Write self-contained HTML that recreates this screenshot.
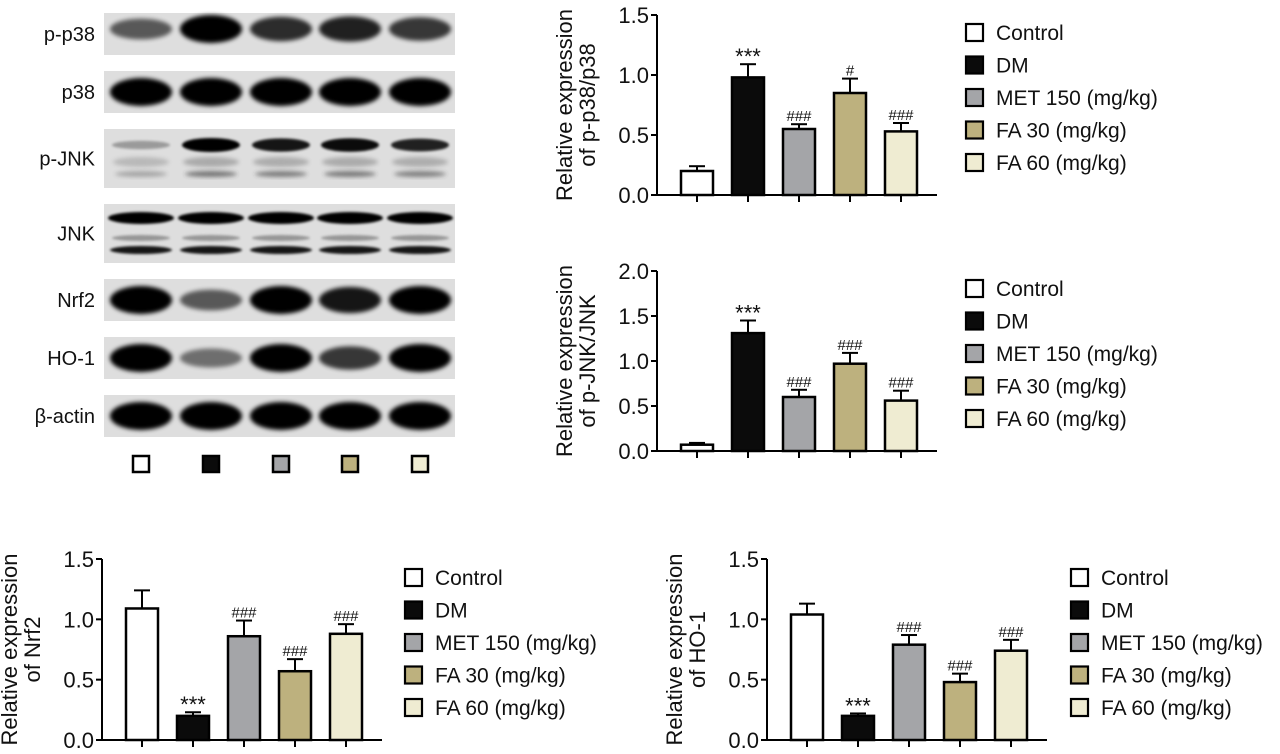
<!DOCTYPE html>
<html><head><meta charset="utf-8">
<style>
html,body{margin:0;padding:0;background:#fff;}
svg{display:block;font-family:"Liberation Sans",Arial,sans-serif;}
</style></head>
<body>
<svg id="fig" width="1280" height="754" viewBox="0 0 1280 754" xmlns="http://www.w3.org/2000/svg">
<defs>
<filter id="blur" x="-20%" y="-50%" width="140%" height="200%"><feGaussianBlur stdDeviation="2"/></filter>
<filter id="blur2" x="-20%" y="-50%" width="140%" height="200%"><feGaussianBlur stdDeviation="1.3"/></filter>
</defs>
</svg>
<script>
// ---------- data ----------
const groups = ["Control","DM","MET 150 (mg/kg)","FA 30 (mg/kg)","FA 60 (mg/kg)"];
const colors = ["#ffffff","#0b0b0b","#a4a5a8","#bdb17e","#efecd2"];
const pp38Vals = [0.20,0.98,0.55,0.85,0.53];
const pp38Err  = [0.04,0.11,0.04,0.12,0.07];
const pp38Sig  = ["","***","###","#","###"];
const pjnkVals = [0.07,1.31,0.60,0.97,0.56];
const pjnkErr  = [0.02,0.14,0.08,0.12,0.11];
const pjnkSig  = ["","***","###","###","###"];
const nrf2Vals = [1.09,0.20,0.86,0.57,0.88];
const nrf2Err  = [0.15,0.03,0.13,0.10,0.08];
const nrf2Sig  = ["","***","###","###","###"];
const ho1Vals  = [1.04,0.20,0.79,0.48,0.74];
const ho1Err   = [0.09,0.02,0.08,0.07,0.09];
const ho1Sig   = ["","***","###","###","###"];
const ticks15 = ["0.0","0.5","1.0","1.5"];
const ticks20 = ["0.0","0.5","1.0","1.5","2.0"];
// blot band intensities (0-1) per lane
const blotRows = [
 {name:"p-p38", i:[0.6,1,0.8,0.85,0.75]},
 {name:"p38", i:[1,1,1,1,1]},
 {name:"p-JNK", i:[0.3,1,0.9,0.95,0.85]},
 {name:"JNK", i:[1,1,1,1,1]},
 {name:"Nrf2", i:[1,0.6,1,0.9,1]},
 {name:"HO-1", i:[1,0.5,1,0.75,1]},
 {name:"β-actin", i:[1,1,1,1,1]}
];

const NS="http://www.w3.org/2000/svg";
const svg=document.getElementById('fig');
function mk(tag,attrs,parent){const e=document.createElementNS(NS,tag);for(const k in attrs)e.setAttribute(k,attrs[k]);(parent||svg).appendChild(e);return e;}

// ---------- blot ----------
const blot=mk('g',{});


const rowY=[[13,55],[71,113],[129,188],[204,263],[279,321],[337,379],[395,437]];
const laneX=[141,211,281,350,420];
blotRows.forEach((r,ri)=>{
  const [y0,y1]=rowY[ri];
  const g=mk('g',{},blot);
  
  
  mk('rect',{x:104,y:y0,width:351,height:y1-y0,fill:'#dedede'},g);
  const t=mk('text',{x:95,y:(y0+y1)/2+7,'text-anchor':'end','font-size':20,fill:'#111'},g);
  t.textContent=r.name;
  
  
  const cy=(y0+y1)/2;
  r.i.forEach((v,li)=>{
    const op=Math.min(1,v);
    if(r.name==="p-JNK"){
      mk('ellipse',{cx:laneX[li],cy:y0+16,rx:29,ry:3+4*v,fill:'#000',opacity:op,filter:'url(#blur2)'},g);
      mk('ellipse',{cx:laneX[li],cy:y0+33,rx:28,ry:5,fill:'#777',opacity:0.3+0.2*v,filter:'url(#blur)'},g);
      mk('ellipse',{cx:laneX[li],cy:y0+45,rx:26,ry:3,fill:'#333',opacity:0.2+0.4*v,filter:'url(#blur)'},g);
    } else if(r.name==="JNK"){
      mk('ellipse',{cx:laneX[li],cy:y0+14,rx:33,ry:6,fill:'#000',opacity:op,filter:'url(#blur2)'},g);
      mk('ellipse',{cx:laneX[li],cy:y0+34,rx:29,ry:3,fill:'#666',opacity:0.6,filter:'url(#blur2)'},g);
      mk('ellipse',{cx:laneX[li],cy:y0+46,rx:31,ry:4,fill:'#000',opacity:0.9,filter:'url(#blur2)'},g);
    } else {
      mk('ellipse',{cx:laneX[li],cy:cy-(r.name==="p-p38"?5:0),rx:31,ry:5+9*v,fill:'#000',opacity:op,filter:'url(#blur)'},g);
    }
  });
});
colors.forEach((c,i)=>{
  const s=mk('rect',{x:laneX[i]-8,y:456,width:16,height:16,fill:c,stroke:'#000','stroke-width':2.5});
  
  
});

// ---------- bar charts ----------
function chart(o){
  const g=mk('g',{});
  
  
  const yS=v=>o.y0-(v/o.max)*(o.y0-o.yTop);
  const barCx=i=>o.x0+40+i*51;
  const ax=mk('line',{x1:o.x0,y1:o.y0,x2:o.x0,y2:o.yTop,stroke:'#000','stroke-width':2},g);
  
  
  o.ticks.forEach(tl=>{
    const v=parseFloat(tl),y=yS(v);
    mk('line',{x1:o.x0-6,y1:y,x2:o.x0,y2:y,stroke:'#000','stroke-width':2},g);
    const t=mk('text',{x:o.x0-8,y:y+8,'text-anchor':'end','font-size':22,fill:'#111'},g);
    t.textContent=tl;
    
    
  });
  const xa=mk('line',{x1:o.x0,y1:o.y0,x2:o.x0+280,y2:o.y0,stroke:'#000','stroke-width':2},g);
  
  
  const tt=mk('text',{transform:`translate(${o.x0-85},${(o.y0+o.yTop)/2}) rotate(-90)`,'text-anchor':'middle','font-size':22,fill:'#111'},g);
  
  
  const ts1=mk('tspan',{x:0,dy:0},tt);ts1.textContent="Relative expression";
  const ts2=mk('tspan',{x:0,dy:23},tt);ts2.textContent=o.title;
  o.vals.forEach((v,i)=>{
    const cx=barCx(i),yt=yS(v),ye=yS(v+o.err[i]);
    const e=mk('line',{x1:cx,y1:yt,x2:cx,y2:ye,stroke:'#000','stroke-width':2},g);
    
    
    mk('line',{x1:cx-8,y1:ye,x2:cx+8,y2:ye,stroke:'#000','stroke-width':2},g);
    const b=mk('rect',{x:cx-16,y:yt,width:32,height:o.y0-yt,fill:colors[i],stroke:'#000','stroke-width':2.5},g);
    
    
    mk('line',{x1:cx,y1:o.y0,x2:cx,y2:o.y0+7,stroke:'#000','stroke-width':2},g);
    if(o.sig[i]){
      const isStar=o.sig[i]==="***";
      const s=mk('text',{x:cx,y:ye-(isStar?0:3),'text-anchor':'middle','font-size':isStar?22:15,fill:'#111'},g);
      s.textContent=o.sig[i];
      
      
    }
  });
  const lg=mk('g',{},g);
  
  
  groups.forEach((n,i)=>{
    const y=o.ly+i*32.5;
    const en=mk('g',{},lg);
    
    
    mk('rect',{x:o.lx,y:y-8,width:17,height:17,fill:colors[i],stroke:'#000','stroke-width':2.2},en);
    const t=mk('text',{x:o.lx+30,y:y+8,'font-size':21,fill:'#111'},en);
    t.textContent=n;
  });
}
chart({name:'chart-p-p38',x0:657,y0:195,yTop:15,max:1.5,ticks:ticks15,vals:pp38Vals,err:pp38Err,sig:pp38Sig,title:"of p-p38/p38",lx:966,ly:32});
chart({name:'chart-p-jnk',x0:657,y0:451,yTop:271,max:2.0,ticks:ticks20,vals:pjnkVals,err:pjnkErr,sig:pjnkSig,title:"of p-JNK/JNK",lx:966,ly:288});
chart({name:'chart-nrf2',x0:102,y0:740,yTop:559,max:1.5,ticks:ticks15,vals:nrf2Vals,err:nrf2Err,sig:nrf2Sig,title:"of Nrf2",lx:405,ly:577});
chart({name:'chart-ho1',x0:767,y0:740,yTop:559,max:1.5,ticks:ticks15,vals:ho1Vals,err:ho1Err,sig:ho1Sig,title:"of HO-1",lx:1071,ly:577});
</script>
</body></html>
